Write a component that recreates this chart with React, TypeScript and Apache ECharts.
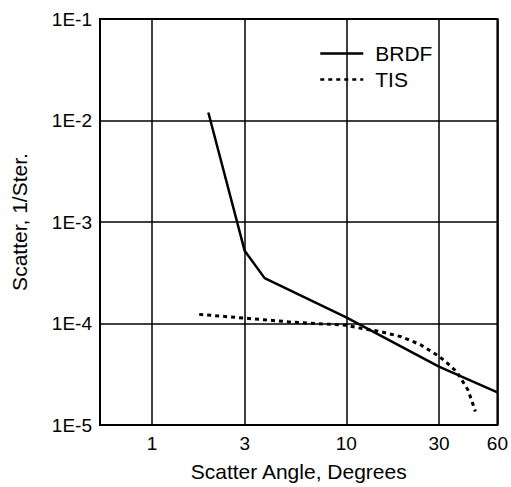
import React, { useEffect, useRef } from "react";
import * as echarts from "echarts";

const xTicks = [1, 3, 10, 30, 60];
const yTicks = [1e-5, 1e-4, 1e-3, 1e-2, 1e-1];

const brdfAngle = [1.95, 3, 3.8, 10, 30, 60];
const brdfValue = [1.2e-2, 5.2e-4, 2.8e-4, 1.15e-4, 3.76e-5, 2.1e-5];

const tisAngle = [1.75, 3, 5, 10, 12.1, 15.1, 19.2, 24, 29.8, 33, 37, 42.4, 46.2];
const tisValue = [1.23e-4, 1.13e-4, 1.04e-4, 9.6e-5, 8.9e-5, 8.3e-5, 7.4e-5, 6.2e-5, 4.8e-5, 4.1e-5, 3.35e-5, 2.2e-5, 1.36e-5];

const seriesNames = ["BRDF", "TIS"];
const xName = "Scatter Angle, Degrees";
const yName = "Scatter, 1/Ster.";

const FONT = "'Liberation Sans', Arial, Helvetica, sans-serif";

export default function App() {
  const ref = useRef<HTMLDivElement>(null);
  useEffect(() => {
    if (!ref.current) return;
    const chart = echarts.init(ref.current, null, { renderer: "svg" });
    const toPairs = (xs: number[], ys: number[]) => xs.map((x, i) => [x, ys[i]]);
    chart.setOption({
      animation: false,
      backgroundColor: "#ffffff",
      textStyle: { fontFamily: FONT, color: "#000" },
      grid: {
        left: 100,
        right: 13,
        top: 19,
        bottom: 61,
        show: true,
        borderColor: "#000",
        borderWidth: 2,
        backgroundColor: "transparent",
      },
      legend: {
        orient: "vertical",
        left: 319,
        top: 43,
        padding: 0,
        itemWidth: 43,
        itemHeight: 20,
        itemGap: 5,
        data: seriesNames,
        itemStyle: { opacity: 0 },
        lineStyle: { width: 2.5 },
        textStyle: { fontSize: 21, color: "#000", fontFamily: FONT, padding: [0, 0, 0, 7] },
      },
      xAxis: {
        type: "log",
        logBase: 10,
        min: 0.54,
        max: 60,
        name: xName,
        nameLocation: "middle",
        nameGap: 36,
        nameTextStyle: { fontSize: 21, color: "#000", fontFamily: FONT },
        axisLine: { show: false },
        axisTick: { show: false, customValues: xTicks },
        axisLabel: {
          customValues: xTicks,
          fontSize: 19,
          color: "#000",
          fontFamily: FONT,
          margin: 9,
          formatter: (v: number) => String(Math.round(v)),
        },
        splitLine: { show: true, lineStyle: { color: "#000", width: 1.5 } },
      },
      yAxis: {
        type: "log",
        logBase: 10,
        min: 1e-5,
        max: 1e-1,
        name: yName,
        nameLocation: "middle",
        nameGap: 70,
        nameTextStyle: { fontSize: 21, color: "#000", fontFamily: FONT },
        axisLine: { show: false },
        axisTick: { show: false, customValues: yTicks },
        axisLabel: {
          customValues: yTicks,
          fontSize: 19,
          color: "#000",
          fontFamily: FONT,
          margin: 8,
          formatter: (v: number) => "1E" + Math.round(Math.log10(v)),
        },
        splitLine: { show: true, lineStyle: { color: "#000", width: 1.5 } },
      },
      series: [
        {
          name: seriesNames[0],
          type: "line",
          data: toPairs(brdfAngle, brdfValue),
          showSymbol: false,
          symbol: "none",
          symbolSize: 0,
          lineStyle: { color: "#000", width: 2.5, type: "solid" },
          itemStyle: { color: "#000" },
        },
        {
          name: seriesNames[1],
          type: "line",
          data: toPairs(tisAngle, tisValue),
          showSymbol: false,
          symbol: "none",
          symbolSize: 0,
          lineStyle: { color: "#000", width: 3, type: [4, 4] },
          itemStyle: { color: "#000" },
        },
      ],
    });
    return () => chart.dispose();
  }, []);
  return (
    <div
      ref={ref}
      style={{ position: "absolute", left: 0, top: 0, width: 511, height: 487, background: "#fff" }}
    />
  );
}
